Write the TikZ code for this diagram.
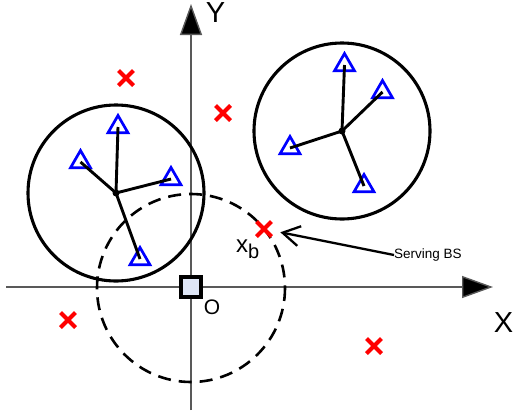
\documentclass[tikz,border=0pt]{standalone}
\usepackage{fontspec}
\setmainfont{Liberation Sans}
\usetikzlibrary{shapes.geometric, shapes.misc, arrows.meta, positioning, calc}
\definecolor{origfill}{RGB}{222,230,246}
\tikzset{
  axis/.style = {draw=black!65, line width=1.4pt,
    -{Triangle[length=31pt, width=22pt, fill=black]}},
  cell/.style = {draw=black, line width=3.1pt},
  cov/.style = {draw=black, line width=2.6pt, dash pattern=on 13pt off 8pt},
  ue/.style = {regular polygon, regular polygon sides=3, draw=blue,
    line width=2.7pt, minimum size=23pt, inner sep=0pt},
  bs/.style = {cross out, draw=red, line width=4pt, minimum size=11pt,
    inner sep=0pt},
  hub/.style = {circle, fill=black, inner sep=0pt, minimum size=7pt},
  link/.style = {draw=black, line width=2.9pt},
  orig/.style = {rectangle, draw=black, fill=origfill, line width=3.2pt,
    minimum size=20pt, inner sep=0pt},
  lbl/.style = {inner sep=0pt},
  note/.style = {font=\fontsize{13.5}{15}\selectfont, inner sep=0pt, anchor=west},
  ptr/.style = {-{Straight Barb[length=17pt, width=20pt]}, line width=2.3pt,
    shorten >=9pt}
}

\begin{document}
\begin{tikzpicture}[x=1pt, y=-1pt]
  \useasboundingbox (0,0) rectangle (513,418);
  % axes
  \coordinate (xs) at (6,287);
  \coordinate (xe) at (493,287);
  \coordinate (ys) at (191,410);
  \coordinate (ye) at (191,4);
  \draw [axis] (xs) -- (xe);
  \draw [axis] (ys) -- (ye);
  \node [lbl, font=\fontsize{29}{31}\selectfont] (ylab) at (215.5,12.5) {Y};
  \node [lbl, font=\fontsize{29}{31}\selectfont] (xlab) at (503.5,322.5) {X};
  % coverage of the serving BS
  \draw [cov] (191,288) circle (94);
  % left cell
  \draw [cell] (116,193) circle (88);
  \node [hub] (h1) at (116,193) {};
  \node [ue] (a1) at (118,127) {};
  \node [ue] (a2) at (80.5,162) {};
  \node [ue] (a3) at (171,179) {};
  \node [ue] (a4) at (140,259) {};
  \foreach \u in {a1, a2, a3, a4} \draw [link] (h1.center) -- (\u.center);
  % right cell
  \draw [cell] (342,131) circle (88);
  \node [hub] (h2) at (342,131) {};
  \node [ue] (b1) at (344.5,65) {};
  \node [ue] (b2) at (382.5,92) {};
  \node [ue] (b3) at (290,148) {};
  \node [ue] (b4) at (364,186) {};
  \foreach \u in {b1, b2, b3, b4} \draw [link] (h2.center) -- (\u.center);
  % base stations
  \node [bs] (s1) at (126,78) {};
  \node [bs] (s2) at (223,113) {};
  \node [bs] (sb) at (264,229) {};
  \node [bs] (s3) at (68,320) {};
  \node [bs] (s4) at (374,346) {};
  % origin
  \node [orig] (o) at (191,287) {};
  \node [lbl, font=\fontsize{21}{23}\selectfont] (olab) at (212,307.5) {O};
  \node [lbl, anchor=base west] (xb) at (236,252)
    {\fontsize{24}{26}\selectfont x\raisebox{-6pt}{\fontsize{20}{22}\selectfont b}};
  \node [note] (sbs) at (394,255) {Serving BS};
  \draw [ptr] (sbs.west) -- (sb);
\end{tikzpicture}
\end{document}
